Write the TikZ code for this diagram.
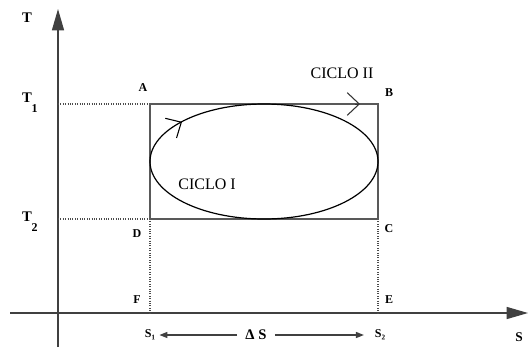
\documentclass[tikz,border=0pt]{standalone}
\usepackage{fontspec}
\setmainfont{Liberation Serif}
\usetikzlibrary{arrows.meta}
\tikzset{
	lbl/.style = {font=\bfseries\fontsize{9}{10}\selectfont, inner sep=0pt},
	tlbl/.style = {font=\bfseries\fontsize{11}{12}\selectfont, inner sep=0pt},
	ciclo/.style = {font=\fontsize{12}{14}\selectfont, inner sep=0pt},
	axis/.style = {draw=black!75, line width=1pt, -{Triangle[length=16pt,width=9pt]}},
	guide/.style = {draw=black!70, densely dotted, line width=0.8pt},
	box/.style = {draw=black!65, line width=1pt},
	darr/.style = {draw=black!75, line width=1pt, -{Triangle[length=6pt,width=4.5pt]}},
	chev/.style = {-{Straight Barb[length=9pt,width=17pt,line width=0.8pt]}}
}
\begin{document}
\begin{tikzpicture}[x=0.75pt, y=-0.75pt]
	\useasboundingbox (0,0) rectangle (528,347);
	% corners of the cycle
	\coordinate (A) at (150,104);
	\coordinate (B) at (378,104);
	\coordinate (C) at (378,219);
	\coordinate (D) at (150,219);
	\coordinate (F) at (150,313);
	\coordinate (E) at (378,313);
	\coordinate (T1) at (58,104);
	\coordinate (T2) at (58,219);
	% axes
	\coordinate (ybot) at (58,347);
	\coordinate (ytop) at (58,9);
	\coordinate (xleft) at (10,313);
	\coordinate (xright) at (528,313);
	\draw [axis] (ybot) -- (ytop);
	\draw [axis] (xleft) -- (xright);
	\draw [guide] (T1) -- (A);
	\draw [guide] (T2) -- (D);
	\draw [guide] (D) -- (F);
	\draw [guide] (C) -- (E);
	\draw [box] (A) -- (B) -- (C) -- (D) -- cycle;
	\draw [black, line width=0.9pt] (264,161.5) ellipse (114 and 57.5);
	\draw [chev, black] (180.6,122.6) -- (182,121.8);
	\draw [chev, black!80] (355,104) -- (360,104);
	% labels
	\node [tlbl] (lT) at (27,18) {T};
	\node [tlbl] (lT1) at (27,98) {T};
	\node [lbl] at (34.5,108.5) {1};
	\node [tlbl] (lT2) at (27,217) {T};
	\node [lbl] at (34.5,227.5) {2};
	\node [lbl] (lA) at (143,88) {A};
	\node [lbl] (lB) at (389,93) {B};
	\node [lbl] (lC) at (389,229) {C};
	\node [lbl] (lD) at (137,234) {D};
	\node [lbl] (lF) at (137,300) {F};
	\node [lbl] (lE) at (389,300) {E};
	\node [ciclo] (c2) at (342,73) {CICLO II};
	\node [ciclo] (c1) at (207,184) {CICLO I};
	\node [lbl] (s1) at (150,335) {S₁};
	\node [lbl] (s2) at (380,335) {S₂};
	\node [lbl, font=\bfseries\fontsize{10}{11}\selectfont] (s) at (519,337) {S};
	\node [lbl, font=\bfseries\fontsize{11}{12}\selectfont] (dS) at (256,335) {Δ S};
	\draw [darr] ([xshift=-6pt]dS.west) -- ([xshift=3pt]s1.east);
	\draw [darr] ([xshift=6pt]dS.east) -- ([xshift=-8pt]s2.west);
\end{tikzpicture}
\end{document}
